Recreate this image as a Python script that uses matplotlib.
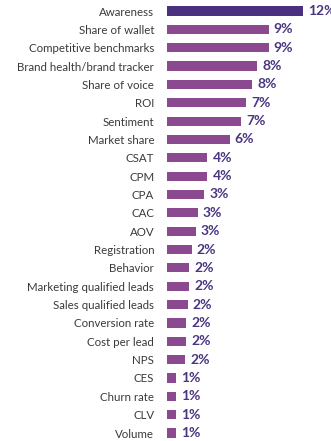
import matplotlib
matplotlib.use("Agg")
import matplotlib.pyplot as plt
import numpy as np

metrics = ['Awareness', 'Share of wallet', 'Competitive benchmarks',
           'Brand health/brand tracker', 'Share of voice', 'ROI', 'Sentiment',
           'Market share', 'CSAT', 'CPM', 'CPA', 'CAC', 'AOV', 'Registration',
           'Behavior', 'Marketing qualified leads', 'Sales qualified leads',
           'Conversion rate', 'Cost per lead', 'NPS', 'CES', 'Churn rate',
           'CLV', 'Volume']
share = [12.0, 9.0, 9.0, 8.0, 7.55, 7.0, 6.55, 5.55, 3.6, 3.6, 3.3, 2.75,
         2.55, 2.2, 2.0, 2.0, 1.85, 1.7, 1.7, 1.65, 0.85, 0.8, 0.8, 0.8]

plt.rcParams['font.family'] = ['Lato', 'DejaVu Sans']

fig = plt.figure(figsize=(3.31, 4.41), dpi=100)
ax = fig.add_axes([0.5036, 0, 0.4964, 1])

y = np.arange(len(metrics))
colors = ['#4b3080'] + ['#8b4a8f'] * (len(metrics) - 1)
bars = ax.barh(y, share, height=0.5, color=colors)

for rect, v in zip(bars, share):
    ax.text(rect.get_width() + 0.45, rect.get_y() + rect.get_height() / 2,
            '%.0f%%' % v, va='center', ha='left', fontsize=10,
            fontweight='bold', color='#4a3580', clip_on=False)

ax.set_yticks(y)
ax.set_yticklabels(metrics, fontsize=8.3, color='#3a3a3a')
ax.tick_params(axis='y', length=0, pad=9)
ax.set_xticks([])
ax.set_xlim(0, 14.5)
ax.set_ylim(len(metrics) - 1 + 0.436, -0.6)
for s in ax.spines.values():
    s.set_visible(False)

fig.savefig('out.png', dpi=100)
